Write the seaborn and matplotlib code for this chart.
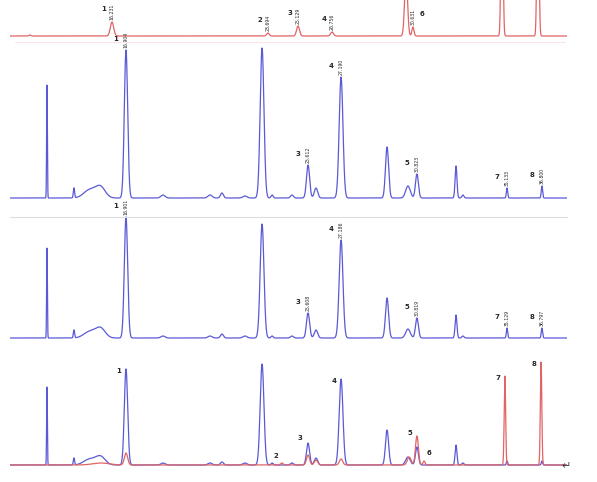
import numpy as np
import pandas as pd
import matplotlib
matplotlib.use("Agg")
import matplotlib.pyplot as plt
import seaborn as sns

# retention window shown (min)
t_start, t_end = 11.35, 38.0

# standard mixture (top strip)
std_rt = [12.31, 16.23, 23.69, 25.13, 26.76, 30.30, 30.63, 34.89, 36.61]
std_h = [1, 14, 3, 10, 4, 60, 9, 200, 200]
std_w = [0.05, 0.08, 0.06, 0.07, 0.07, 0.07, 0.05, 0.045, 0.045]
std_ids = ["1", "2", "3", "4", "6"]
std_id_rt = [16.23, 23.69, 25.13, 26.76, 30.63]
std_labels = ["16.231", "23.694", "25.129", "26.756", "30.631"]

# sample chromatograms (blue), shared peak table
smp_rt = [13.12, 14.41, 15.05, 15.35, 15.70, 16.90, 18.67, 20.92, 21.49, 22.59,
          23.41, 23.89, 24.84, 25.61, 25.99, 27.19, 29.39, 30.39, 30.82, 32.69,
          33.02, 35.13, 36.80]
smp_w = [0.018, 0.03, 0.25, 0.30, 0.22, 0.08, 0.10, 0.10, 0.07, 0.10,
         0.09, 0.05, 0.07, 0.075, 0.08, 0.09, 0.075, 0.11, 0.07, 0.045,
         0.05, 0.032, 0.032]
smp1_h = [113, 10, 4, 6, 9, 148, 3, 3, 5, 2,
          150, 3, 3, 33, 10, 121, 51, 12, 24, 32,
          3, 10, 12]
smp2_h = [90, 8, 3, 5, 8, 121, 2, 2, 4, 2,
          114, 2, 2, 25, 8, 98, 40, 9, 20, 23,
          2, 10, 10]
smp3_h = [78, 7, 3, 4, 7, 96, 2, 2, 3, 2,
          101, 2, 2, 22, 7, 86, 35, 8, 18, 20,
          2, 4, 4]
smp_ids = ["1", "3", "4", "5", "7", "8"]
smp_id_rt = [16.90, 25.61, 27.19, 30.82, 35.13, 36.80]
smp1_labels = ["16.904", "25.612", "27.190", "30.823", "35.133", "36.800"]
smp2_labels = ["16.901", "25.608", "27.186", "30.819", "35.129", "36.797"]

# standard overlaid on the last sample (red)
ovl_rt = [15.70, 16.90, 24.36, 25.61, 25.99, 27.19, 30.45, 30.82, 31.16, 35.03, 36.76]
ovl_h = [2, 12, 2, 10, 5, 6, 8, 29, 4, 89, 103]
ovl_w = [0.4, 0.08, 0.06, 0.075, 0.08, 0.08, 0.09, 0.07, 0.05, 0.035, 0.035]
ovl_ids = ["1", "2", "3", "4", "5", "6", "7", "8"]
ovl_id_rt = [16.90, 24.36, 25.61, 27.19, 30.82, 31.16, 35.03, 36.76]

t = np.linspace(t_start, t_end, 8000)


def trace(rt, h, w):
    y = np.zeros_like(t)
    for r, a, s in zip(rt, h, w):
        y += a * np.exp(-0.5 * ((t - r) / s) ** 2)
    return pd.DataFrame({"t": t, "signal": y})


sns.set_style("white")
W, H = 597, 482
fig = plt.figure(figsize=(W / 100, H / 100), dpi=100)

RED = "#e06464"
BLUE = "#5a5ad6"


def panel(top, bottom):
    ax = fig.add_axes([10 / W, 1 - bottom / H, 557 / W, (bottom - top) / H])
    ax.set_xlim(t_start, t_end)
    ax.set_ylim(-2, bottom - top - 2)
    ax.axis("off")
    return ax


def label_peaks(ax, df, ids, rts, labels, ymax, id_dx=-10, id_dy=8, moves=None):
    moves = moves or {}
    for i, r in enumerate(rts):
        top = min(np.interp(r, df["t"], df["signal"]), ymax)
        if labels is not None:
            ax.annotate(labels[i], xy=(r, top), xytext=(0, 2), textcoords="offset pixels",
                        rotation=90, ha="center", va="bottom", fontsize=3.3)
        dx, dy = moves.get(ids[i], (id_dx, id_dy))
        ax.annotate(ids[i], xy=(r, top), xytext=(dx, dy), textcoords="offset pixels",
                    ha="center", va="bottom", fontsize=5, fontweight="bold")


# top strip
axA = panel(0, 38)
dA = trace(std_rt, std_h, std_w)
sns.lineplot(data=dA, x="t", y="signal", ax=axA, color=RED, lw=0.9)
label_peaks(axA, dA, std_ids, std_id_rt, std_labels, 30, id_dx=-8, id_dy=10,
            moves={"6": (9, 10)})
axA.axis("off")

# sample 1
axB = panel(44, 200)
dB = trace(smp_rt, smp1_h, smp_w)
sns.lineplot(data=dB, x="t", y="signal", ax=axB, color=BLUE, lw=0.9)
label_peaks(axB, dB, smp_ids, smp_id_rt, smp1_labels, 200)
axB.axis("off")

# sample 2
axC = panel(216, 340)
dC = trace(smp_rt, smp2_h, smp_w)
sns.lineplot(data=dC, x="t", y="signal", ax=axC, color=BLUE, lw=0.9)
label_peaks(axC, dC, smp_ids, smp_id_rt, smp2_labels, 200)
axC.axis("off")

# overlay
axD = panel(352, 467)
dD = trace(smp_rt, smp3_h, smp_w)
dR = trace(ovl_rt, ovl_h, ovl_w)
sns.lineplot(data=dD, x="t", y="signal", ax=axD, color=BLUE, lw=0.9)
sns.lineplot(data=dR, x="t", y="signal", ax=axD, color=RED, lw=0.9)
both = dD.copy()
both["signal"] = np.maximum(dD["signal"], dR["signal"])
label_peaks(axD, both, ovl_ids, ovl_id_rt, None, 200, id_dx=-7, id_dy=-5,
            moves={"2": (-6, 4), "3": (-8, 2), "5": (-7, 0), "6": (5, 5)})
axD.axis("off")
fig.text(566 / W, 1 - 466 / H, "\u21b5", fontsize=8, ha="center", va="center", color="#444444")

# separators
fig.add_artist(plt.Line2D([15 / W, 565 / W], [1 - 42 / H] * 2, color="#fbe4e4", lw=0.8))
fig.add_artist(plt.Line2D([10 / W, 567 / W], [1 - 217 / H] * 2, color="#dddddd", lw=0.8))

fig.savefig("out.png", dpi=100)
